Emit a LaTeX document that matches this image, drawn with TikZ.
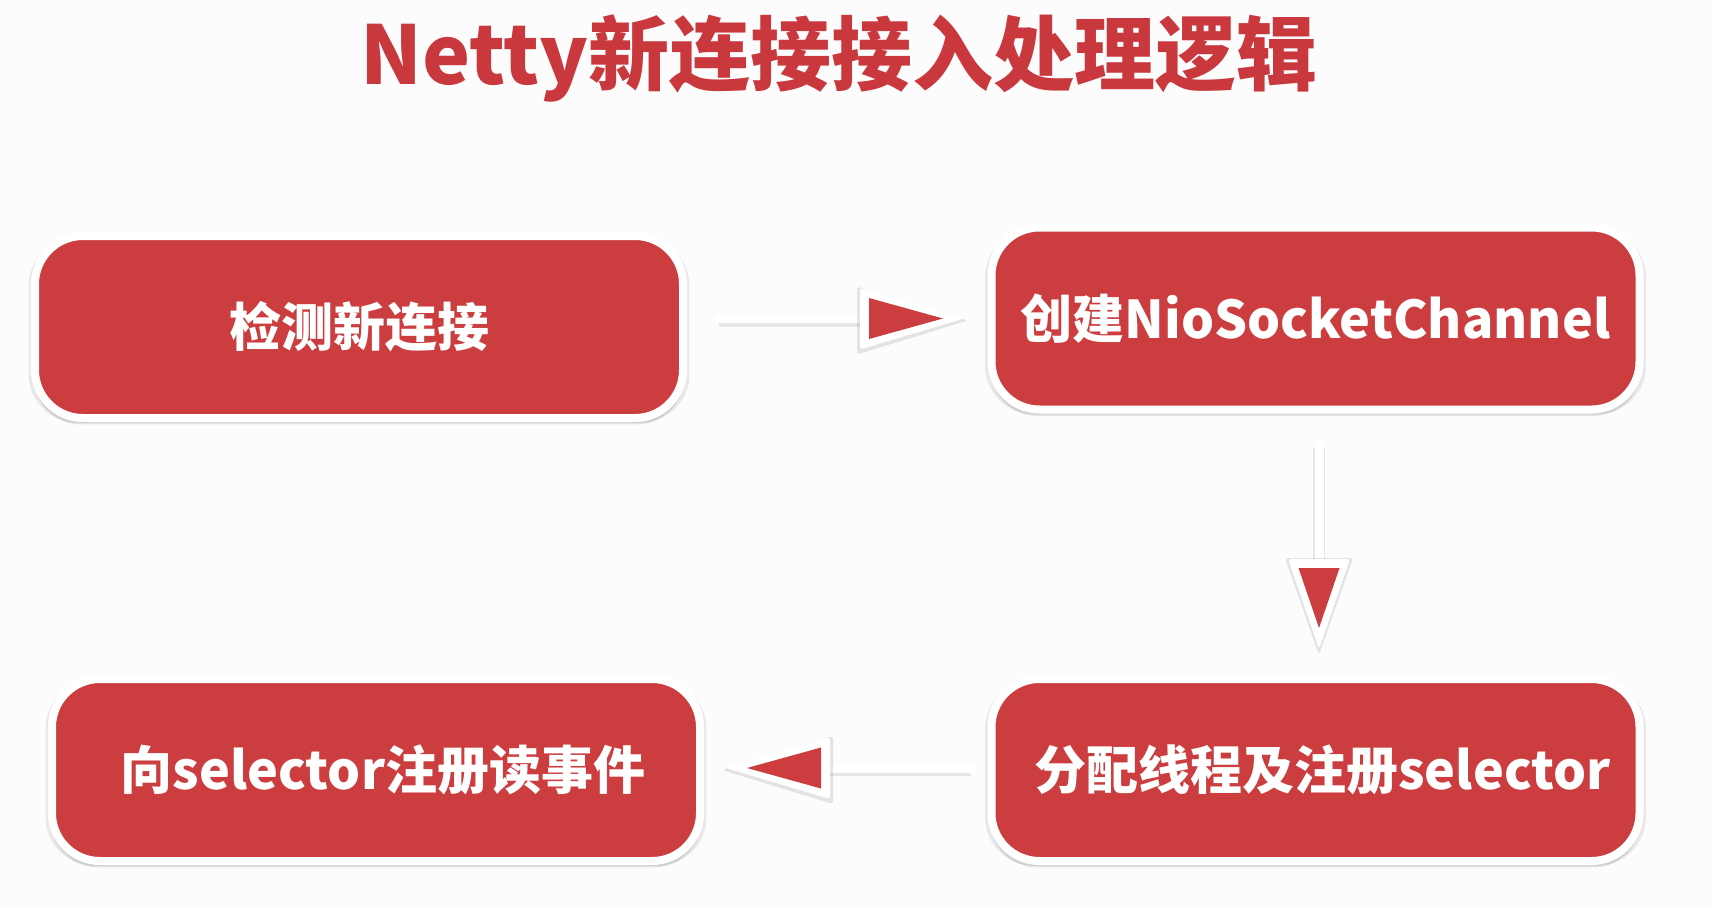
\documentclass[tikz,border=0pt]{standalone}
\usepackage{fontspec}
\setmainfont{Noto Sans CJK SC}
\usetikzlibrary{shadows,calc}
\definecolor{boxred}{RGB}{203,61,62}
\definecolor{titlered}{RGB}{201,56,61}
\definecolor{bgcol}{RGB}{252,252,253}
\tikzset{
  stepbox/.style={rectangle, rounded corners=48pt, fill=boxred, draw=white, line width=8pt,
    minimum width=648pt, minimum height=182pt, inner sep=0pt, text=white,
    font=\fontsize{52pt}{60pt}\selectfont\bfseries,
    general shadow={fill=black, opacity=0.10, shadow yshift=-6pt, shadow scale=1.005},
    general shadow={fill=black, opacity=0.08, shadow yshift=-3pt, shadow scale=1.02}},
  conn/.style={draw=white, line width=9pt, line cap=round,
    preaction={draw=black!40, opacity=0.22, line width=12pt, transform canvas={yshift=-2pt}}},
  headshadow/.style={fill=black!45, opacity=0.22},
  headwhite/.style={fill=white},
  headred/.style={fill=boxred}
}
% arrow head: #1 tip of red triangle, #2 rotation, #3 length of red triangle
\newcommand\myhead[3]{%
  \begin{scope}[shift={(#1)}, yshift=-2pt, rotate=#2]
    \fill[headshadow, rounded corners=3pt] (25,0) -- (-#3-12,-34) -- (-#3-12,34) -- cycle;
  \end{scope}
  \begin{scope}[shift={(#1)}, rotate=#2]
    \fill[headwhite, rounded corners=3pt] (21,0) -- (-#3-9,-31) -- (-#3-9,31) -- cycle;
    \fill[headred] (0,0) -- (-#3,-20.5) -- (-#3,20.5) -- cycle;
  \end{scope}}
\begin{document}
\begin{tikzpicture}[x=1pt,y=-1pt]
\useasboundingbox[fill=bgcol] (0,0) rectangle (1712,907);
\node[text=titlered, font=\fontsize{81pt}{90pt}\selectfont\bfseries, inner sep=0pt] (title) at (839,58) {Netty新连接接入处理逻辑};
\node[stepbox] (b1) at (359,327) {检测新连接};
\node[stepbox] (b2) at (1315.5,318.5) {创建NioSocketChannel};
\node[stepbox] (b3) at (1315.5,770) {\hspace*{14pt}分配线程及注册selector};
\node[stepbox] (b4) at (376,770) {\hspace*{14pt}向selector注册读事件};
% arrow 1
\coordinate (a1s) at ($(b1.east |- b2.west)+(32,0)$);
\coordinate (a1t) at ($(b2.west)+(-44.5,0)$);
\coordinate (a1e) at ($(a1t)+(-70,0)$);
\draw[conn] (a1s) -- (a1e);
\myhead{a1t}{0}{74}
% arrow 2
\coordinate (a2s) at ($(b2.south)+(3.5,32.5)$);
\coordinate (a2t) at ($(b3.north)+(3.5,-47)$);
\coordinate (a2e) at ($(a2t)+(0,-56)$);
\draw[conn] (a2s) -- (a2e);
\myhead{a2t}{-90}{60}
% arrow 3
\coordinate (a3s) at ($(b3.west)+(-16.5,-2)$);
\coordinate (a3t) at ($(b4.east)+(43,-2)$);
\coordinate (a3e) at ($(a3t)+(70,0)$);
\draw[conn] (a3s) -- (a3e);
\myhead{a3t}{180}{74}
\end{tikzpicture}
\end{document}
